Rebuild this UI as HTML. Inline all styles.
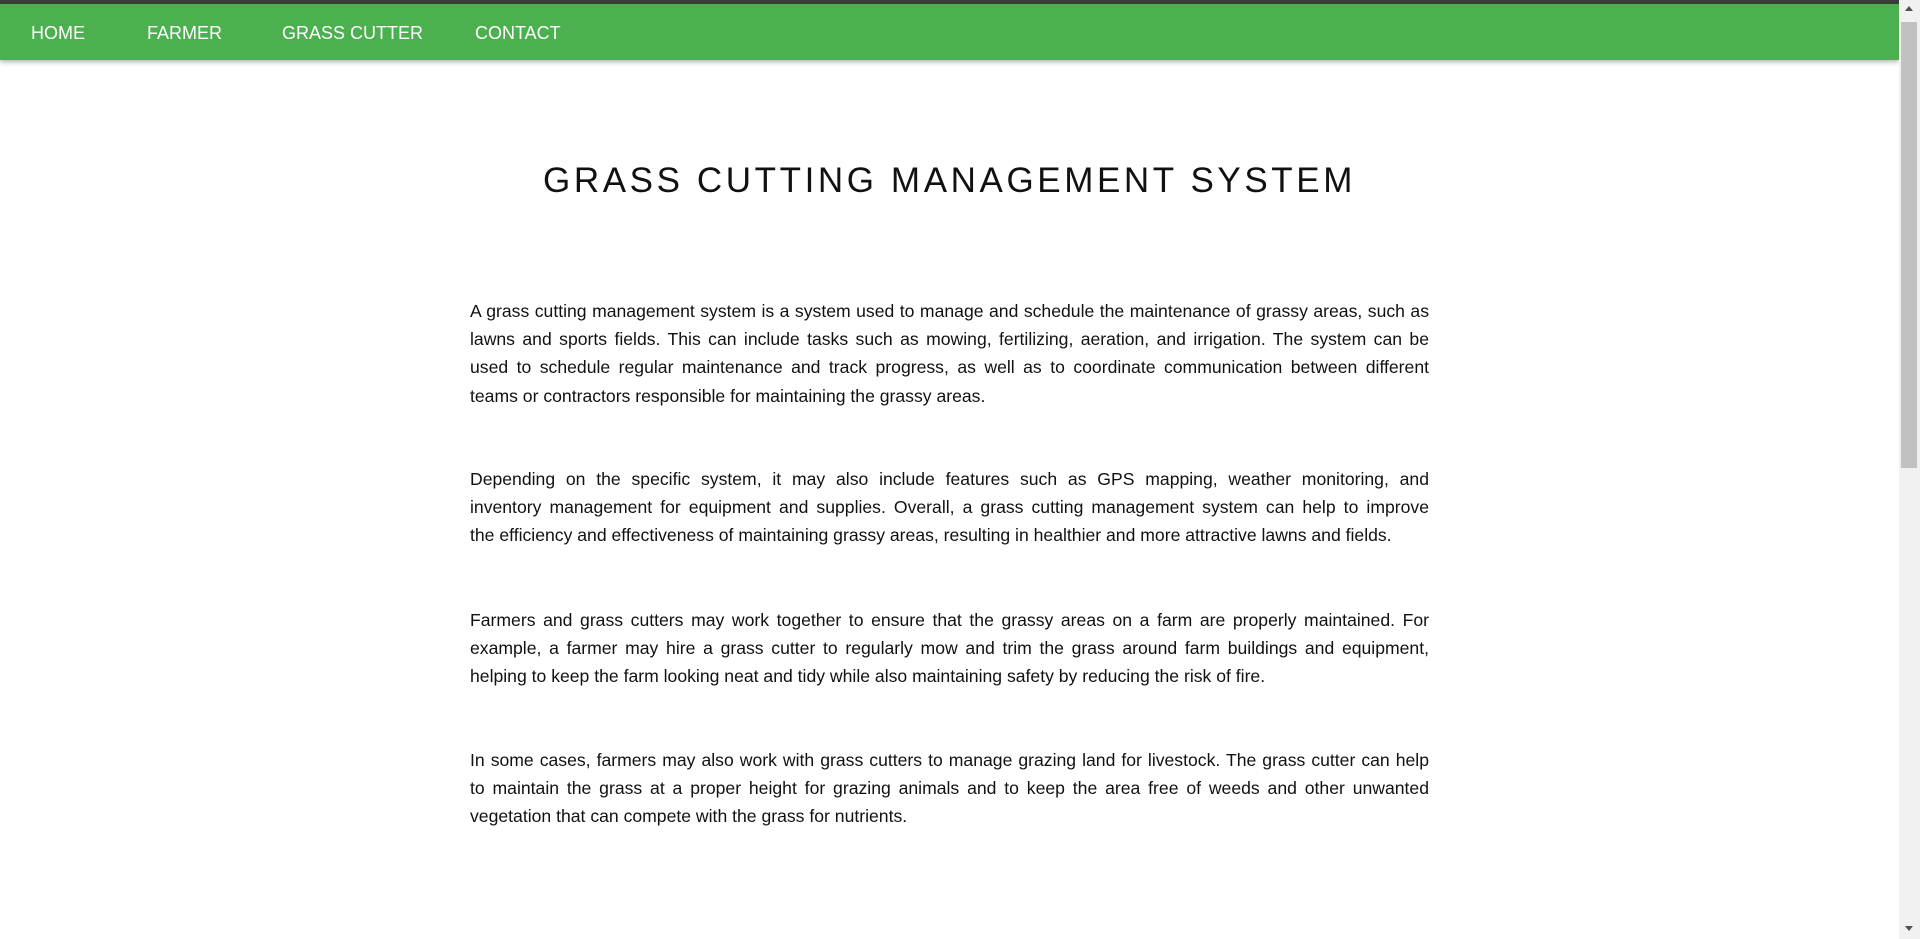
<!DOCTYPE html>
<html><head><meta charset="utf-8">
<style>
html,body{margin:0;padding:0;width:1920px;height:939px;overflow:hidden;background:#fff;font-family:"Liberation Sans",sans-serif;}
#topline{position:absolute;left:0;top:0;width:1899px;height:4px;background:#3a3f3a;}
nav{position:absolute;left:0;top:4px;width:1899px;height:56px;background:#4caf50;box-shadow:0 2px 5px rgba(0,0,0,0.3);}
nav a{position:absolute;top:18px;color:#fff;font-size:18px;text-decoration:none;line-height:22px;}
h1{position:absolute;left:0;width:1899px;top:158px;margin:0;text-align:center;font-weight:normal;font-size:35px;letter-spacing:3.6px;color:#111;line-height:46px;}
.p{position:absolute;left:470px;width:959px;font-size:17.6px;line-height:28.2px;color:#111;}
.p div{text-align:justify;text-align-last:justify;white-space:nowrap;}
.p div.l{text-align-last:left;}
#sb{position:absolute;left:1899px;top:0;width:21px;height:939px;background:#f1f1f1;}
#thumb{position:absolute;left:2px;top:22px;width:16px;height:446px;background:#c1c1c1;}
.arr{position:absolute;left:6px;width:0;height:0;border-left:4px solid transparent;border-right:4px solid transparent;}
</style></head><body>
<div id="topline"></div>
<nav>
<a href="#" style="left:31px">HOME</a>
<a href="#" style="left:147px">FARMER</a>
<a href="#" style="left:282px">GRASS CUTTER</a>
<a href="#" style="left:475px">CONTACT</a>
</nav>
<h1>GRASS CUTTING MANAGEMENT SYSTEM</h1>
<div class="p" style="top:297px">
<div>A grass cutting management system is a system used to manage and schedule the maintenance of grassy areas, such as</div>
<div>lawns and sports fields. This can include tasks such as mowing, fertilizing, aeration, and irrigation. The system can be</div>
<div>used to schedule regular maintenance and track progress, as well as to coordinate communication between different</div>
<div class="l">teams or contractors responsible for maintaining the grassy areas.</div>
</div>
<div class="p" style="top:465px">
<div>Depending on the specific system, it may also include features such as GPS mapping, weather monitoring, and</div>
<div>inventory management for equipment and supplies. Overall, a grass cutting management system can help to improve</div>
<div class="l">the efficiency and effectiveness of maintaining grassy areas, resulting in healthier and more attractive lawns and fields.</div>
</div>
<div class="p" style="top:606px">
<div>Farmers and grass cutters may work together to ensure that the grassy areas on a farm are properly maintained. For</div>
<div>example, a farmer may hire a grass cutter to regularly mow and trim the grass around farm buildings and equipment,</div>
<div class="l">helping to keep the farm looking neat and tidy while also maintaining safety by reducing the risk of fire.</div>
</div>
<div class="p" style="top:746px">
<div>In some cases, farmers may also work with grass cutters to manage grazing land for livestock. The grass cutter can help</div>
<div>to maintain the grass at a proper height for grazing animals and to keep the area free of weeds and other unwanted</div>
<div class="l">vegetation that can compete with the grass for nutrients.</div>
</div>
<div id="sb">
<div class="arr" style="top:6px;border-bottom:5px solid #505050"></div>
<div id="thumb"></div>
<div class="arr" style="top:926px;border-top:5px solid #505050"></div>
</div>
</body></html>
